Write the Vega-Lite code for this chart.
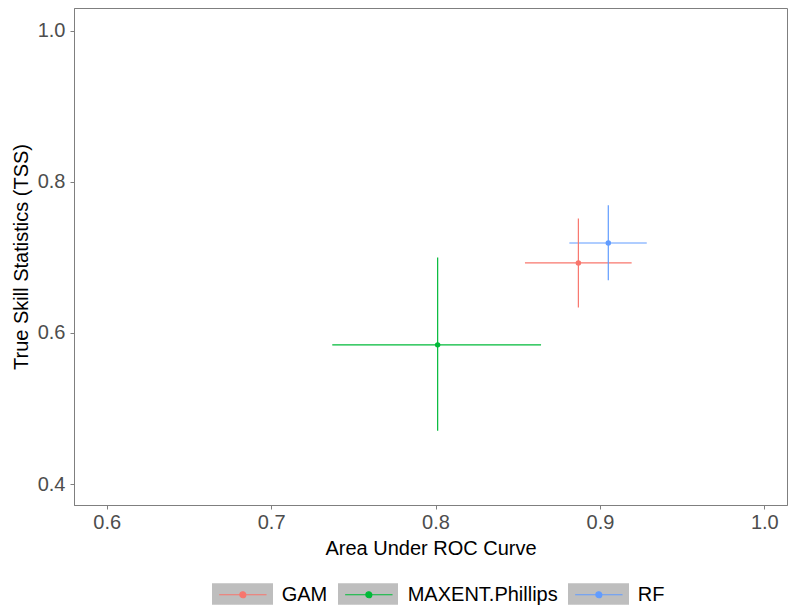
{
  "$schema": "https://vega.github.io/schema/vega-lite/v6.json",
  "width": 713,
  "height": 497,
  "autosize": {"type": "none"},
  "padding": {"left": 74, "top": 8, "right": 1, "bottom": 107},
  "background": "white",
  "config": {
    "font": "Liberation Sans",
    "view": {"stroke": "#7f7f7f", "strokeWidth": 1},
    "axis": {
      "grid": false,
      "domainColor": "#7f7f7f",
      "tickColor": "#7f7f7f",
      "tickSize": 4,
      "labelColor": "#4d4d4d",
      "labelFontSize": 20,
      "labelFont": "Liberation Sans",
      "titleFont": "Liberation Sans",
      "titleFontSize": 20,
      "titleFontWeight": "normal",
      "titleColor": "black"
    }
  },
  "data": {
    "values": [
      {"model": "GAM", "auc": 0.8869, "auc_lo": 0.8544, "auc_hi": 0.9193, "tss": 0.6927, "tss_lo": 0.6337, "tss_hi": 0.7514},
      {"model": "MAXENT.Phillips", "auc": 0.8013, "auc_lo": 0.7372, "auc_hi": 0.8642, "tss": 0.5842, "tss_lo": 0.4705, "tss_hi": 0.6998},
      {"model": "RF", "auc": 0.9051, "auc_lo": 0.8814, "auc_hi": 0.9285, "tss": 0.7191, "tss_lo": 0.6698, "tss_hi": 0.769}
    ]
  },
  "layer": [
    {
      "mark": {"type": "rule", "strokeWidth": 1.2},
      "encoding": {
        "x": {"field": "auc_lo", "type": "quantitative", "title": "Area Under ROC Curve",
              "scale": {"domain": [0.5801, 1.0138], "nice": false, "zero": false},
              "axis": {"values": [0.6, 0.7, 0.8, 0.9, 1.0], "format": ".1f", "labelPadding": 3, "titlePadding": 6}},
        "x2": {"field": "auc_hi"},
        "y": {"field": "tss", "type": "quantitative", "title": "True Skill Statistics (TSS)",
              "scale": {"domain": [0.3722, 1.0302], "nice": false, "zero": false},
              "axis": {"values": [0.4, 0.6, 0.8, 1.0], "format": ".1f", "labelPadding": 5, "titlePadding": 6}},
        "color": {"field": "model", "type": "nominal"}
      }
    },
    {
      "mark": {"type": "rule", "strokeWidth": 1.2},
      "encoding": {
        "x": {"field": "auc", "type": "quantitative", "title": "Area Under ROC Curve"},
        "y": {"field": "tss_lo", "type": "quantitative", "title": "True Skill Statistics (TSS)"},
        "y2": {"field": "tss_hi"},
        "color": {"field": "model", "type": "nominal"}
      }
    },
    {
      "mark": {"type": "point", "filled": true, "size": 30, "opacity": 1},
      "encoding": {
        "x": {"field": "auc", "type": "quantitative", "title": "Area Under ROC Curve"},
        "y": {"field": "tss", "type": "quantitative", "title": "True Skill Statistics (TSS)"},
        "color": {"field": "model", "type": "nominal",
                  "scale": {"domain": ["GAM", "MAXENT.Phillips", "RF"], "range": ["#F8766D", "#00BA38", "#619CFF"]},
                  "legend": {"orient": "none", "direction": "horizontal", "legendX": 138, "legendY": 575, "title": null,
                             "symbolType": "M-0.408,0H4.042M1.535,0A0.282,0.282,0,1,0,2.099,0A0.282,0.282,0,1,0,1.535,0Z",
                             "symbolSize": 454, "symbolOpacity": 1, "symbolStrokeWidth": 1.2,
                             "labelFontSize": 20, "labelColor": "black", "labelOffset": 46.7, "columnPadding": 10,
                             "padding": 0,
                             "encode": {
                               "symbols": {"update": {"stroke": {"scale": "color", "field": "value"}}},
                               "entries": {"update": {"fill": {"signal": "{gradient: 'linear', x1: 0, y1: 0, x2: 1, y2: 0, stops: [{offset: 0, color: '#bebebe'}, {offset: 60 / (68 + ((datum.value == 'GAM' || datum.index === 0) ? 45.6 : (datum.value == 'RF' || datum.index === 2) ? 26.7 : 152.2)), color: '#bebebe'}, {offset: 60 / (68 + ((datum.value == 'GAM' || datum.index === 0) ? 45.6 : (datum.value == 'RF' || datum.index === 2) ? 26.7 : 152.2)), color: 'white'}, {offset: 1, color: 'white'}]}"}}}
                             }}}
      }
    }
  ]
}
